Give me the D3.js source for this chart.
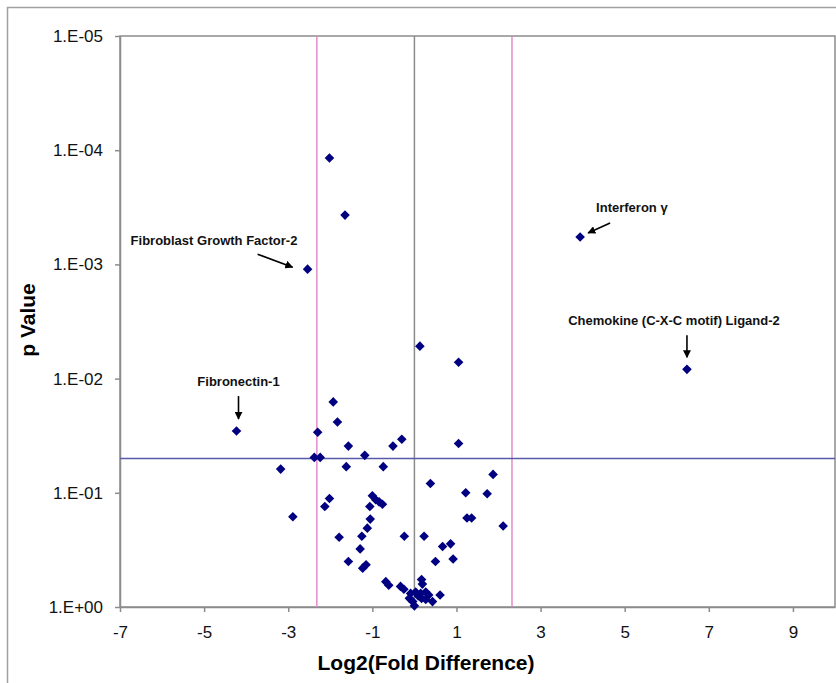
<!DOCTYPE html>
<html lang="en">
<head>
  <meta charset="UTF-8">
  <title>Volcano Plot</title>
  <script src="https://d3js.org/d3.v7.min.js"></script>
  <style>
    body { margin: 0; background: #fff; }
    svg { display: block; font-family: Arial, "Liberation Sans", sans-serif; }
  </style>
</head>
<body>
<div class="main"></div>
<script>

  // log2 fold difference for each gene
  var foldDiff = [
    -2.02, -1.65, -2.54, 3.94, 6.48, 0.13, 1.05, -4.23,
    -1.93, -1.83, -2.30, -1.57, -1.18, -0.51, -0.30, 1.05,
    -2.38, -2.24, -3.18, -1.62, -0.74, 1.87, 0.38, 1.22,
    1.73, -2.02, -2.13, -2.89, -1.00, -0.92, -0.84, -0.76,
    -1.06, -1.05, -1.12, -1.79, -1.25, -0.24, 0.23, 1.25,
    1.36, 2.11, -1.29, -1.57, -1.23, -1.15, 0.67, 0.86,
    0.50, 0.92, -0.68, -0.61, -0.33, -0.25, 0.17, 0.19,
    0.61, 0.43, -0.09, 0.03, 0.15, 0.27, 0.34, -0.12,
    0.17, -0.04, 0.00, 0.27, 0.09
  ];
  // matching p values
  var pValues = [
    1.17e-4, 3.7e-4, 1.1e-3, 5.75e-4, 8.3e-3, 5.2e-3, 7.2e-3, 0.0288,
    0.016, 0.024, 0.0295, 0.039, 0.047, 0.039, 0.034, 0.037,
    0.049, 0.049, 0.062, 0.059, 0.059, 0.069, 0.083, 0.100,
    0.102, 0.112, 0.132, 0.162, 0.106, 0.115, 0.120, 0.126,
    0.132, 0.170, 0.204, 0.245, 0.240, 0.240, 0.240, 0.166,
    0.166, 0.195, 0.310, 0.400, 0.457, 0.427, 0.295, 0.280,
    0.400, 0.380, 0.600, 0.645, 0.660, 0.700, 0.575, 0.630,
    0.785, 0.897, 0.760, 0.740, 0.760, 0.740, 0.785, 0.840,
    0.840, 0.897, 0.977, 0.860, 0.800
  ];

  var xTicks = [-7, -5, -3, -1, 1, 3, 5, 7, 9];
  var yTicks = [1, 1e-1, 1e-2, 1e-3, 1e-4, 1e-5];
  var yTickLabels = ["1.E+00", "1.E-01", "1.E-02", "1.E-03", "1.E-04", "1.E-05"];

  var foldCutoff = [-2.32, 2.32];
  var zeroLine = 0;
  var pCutoff = 0.05;

  // labelled genes: index into the arrays above
  var annoNames = ["Fibroblast Growth Factor-2", "Fibronectin-1", "Interferon \u03b3", "Chemokine (C-X-C motif) Ligand-2"];
  var annoIndex = [2, 7, 3, 4];

  let width = 836;
  let height = 683;

  let xScale = d3.scaleLinear().domain([-7, 10]).range([120, 835]);
  let yScale = d3.scaleLog().domain([1, 1e-5]).range([607, 36]);

  let svg = d3.select(".main")
          .append("svg")
          .attr("width", width)
          .attr("height", height);

  // outer chart frame
  svg.append("rect")
          .attr("x", 7.5).attr("y", 7.5)
          .attr("width", 900).attr("height", 900)
          .style("fill", "none")
          .style("stroke", "#a0a0a0")
          .style("stroke-width", 1.5);

  // plot area frame
  svg.append("rect")
          .attr("x", xScale(-7)).attr("y", yScale(1e-5))
          .attr("width", xScale(10) - xScale(-7))
          .attr("height", yScale(1) - yScale(1e-5))
          .style("fill", "none")
          .style("stroke", "#8c8c8c")
          .style("stroke-width", 1.5);

  // axes
  let xAxis = d3.axisBottom(xScale).tickValues(xTicks).tickSize(5).tickPadding(14).tickSizeOuter(0)
          .tickFormat(d => String(d));
  let yAxis = d3.axisLeft(yScale).tickValues(yTicks).tickSize(5).tickPadding(12).tickSizeOuter(0)
          .tickFormat((d, i) => yTickLabels[i]);

  let gx = svg.append("g").attr("transform", `translate(0, ${yScale(1)})`).call(xAxis);
  let gy = svg.append("g").attr("transform", `translate(${xScale(-7)}, 0)`).call(yAxis);
  [gx, gy].forEach(g => {
    g.select(".domain").style("stroke", "#8c8c8c").style("stroke-width", 1.5);
    g.selectAll(".tick line").style("stroke", "#8c8c8c").style("stroke-width", 1.5);
    g.selectAll(".tick text").style("font-size", "17px").style("fill", "#111")
            .style("font-family", "Arial, 'Liberation Sans', sans-serif");
  });

  // reference lines
  svg.append("line")
          .attr("x1", xScale(zeroLine)).attr("x2", xScale(zeroLine))
          .attr("y1", yScale(1e-5)).attr("y2", yScale(1))
          .style("stroke", "#8c8c8c").style("stroke-width", 1.5);

  svg.selectAll(".cutoff")
          .data(foldCutoff)
          .join("line")
          .attr("class", "cutoff")
          .attr("x1", d => xScale(d)).attr("x2", d => xScale(d))
          .attr("y1", yScale(1e-5)).attr("y2", yScale(1))
          .style("stroke", "#e28cc9").style("stroke-width", 1.5);

  svg.append("line")
          .attr("x1", xScale(-7)).attr("x2", xScale(10))
          .attr("y1", yScale(pCutoff)).attr("y2", yScale(pCutoff))
          .style("stroke", "#5a5aa8").style("stroke-width", 1.5);

  // points
  let points = foldDiff.map((d, i) => ({x: d, p: pValues[i]}));
  let diamond = d3.symbol().type(d3.symbolSquare).size(46);
  svg.append("g")
          .selectAll("path")
          .data(points)
          .join("path")
          .attr("d", diamond)
          .attr("transform", d => `translate(${xScale(d.x)}, ${yScale(d.p)}) rotate(45)`)
          .style("fill", "#000080");

  // annotations
  let anno = svg.append("g").style("font-size", "13px").style("font-weight", "bold").style("fill", "#111");
  svg.append("defs").append("marker")
          .attr("id", "arrow")
          .attr("viewBox", "0 0 10 10")
          .attr("refX", 9).attr("refY", 5)
          .attr("markerWidth", 5).attr("markerHeight", 5)
          .attr("orient", "auto")
          .append("path").attr("d", "M0,0 L10,5 L0,10 z").style("fill", "#000");

  // text offset and arrow (start, end) relative to the point, in px
  var annoLayout = [
    {tx: -177, ty: -24, anchor: "start", a: [-50, -15, -15, -2]},
    {tx: 2, ty: -45, anchor: "middle", a: [2, -35, 2, -12]},
    {tx: 16, ty: -25, anchor: "start", a: [30, -14, 8, -4]},
    {tx: -13, ty: -44, anchor: "middle", a: [0, -34, 0, -12]}
  ];

  annoIndex.forEach((idx, k) => {
    let px = xScale(foldDiff[idx]), py = yScale(pValues[idx]);
    let lay = annoLayout[k];
    anno.append("text")
            .attr("x", px + lay.tx).attr("y", py + lay.ty)
            .attr("text-anchor", lay.anchor)
            .text(annoNames[k]);
    svg.append("line")
            .attr("x1", px + lay.a[0]).attr("y1", py + lay.a[1])
            .attr("x2", px + lay.a[2]).attr("y2", py + lay.a[3])
            .style("stroke", "#000").style("stroke-width", 1.6)
            .attr("marker-end", "url(#arrow)");
  });

  // axis titles
  svg.append("text")
          .attr("x", 426).attr("y", 670)
          .attr("text-anchor", "middle")
          .style("font-size", "21px").style("font-weight", "bold")
          .text("Log2(Fold Difference)");

  svg.append("text")
          .attr("transform", "translate(35, 320) rotate(-90)")
          .attr("text-anchor", "middle")
          .style("font-size", "21px").style("font-weight", "bold")
          .text("p Value");

</script>
</body>
</html>
